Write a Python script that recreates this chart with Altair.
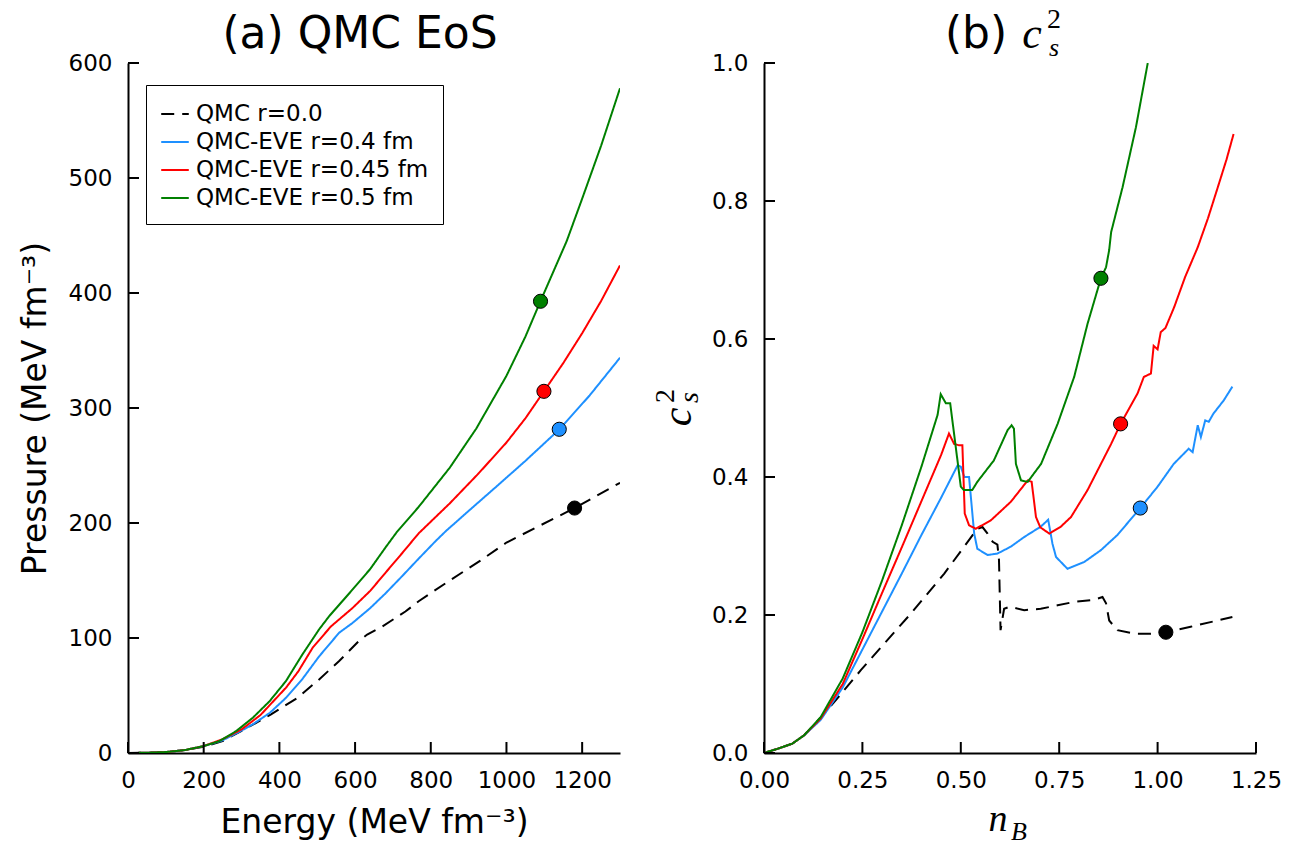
import altair as alt
import pandas as pd

SERIES = ["QMC r=0.0", "QMC-EVE r=0.4 fm", "QMC-EVE r=0.45 fm", "QMC-EVE r=0.5 fm"]
COLORS = ["#000000", "#1E90FF", "#FF0000", "#008000"]
DASHES = [[13, 8], [1, 0], [1, 0], [1, 0]]

# ---- panel (a): pressure vs energy density ----
E_qmc = [0, 50, 100, 150, 200, 250, 308, 378, 448, 505, 558, 610, 632, 672, 733, 768, 850, 930, 1000, 1090, 1180, 1240, 1300]
P_qmc = [0, 0.2, 0.8, 2.5, 5.5, 10.4, 20.6, 33.6, 48, 64, 80, 97.4, 103, 110, 123, 132, 150, 167, 183, 198, 213, 224, 235]
E_04 = [0, 50, 100, 150, 200, 250, 300, 330, 375, 417.5, 460, 505, 558, 593, 640, 681, 725, 768, 812, 840, 900, 970, 1050, 1140, 1220, 1300]
P_04 = [0, 0.2, 0.8, 2.5, 6, 11, 19.5, 25, 35, 48, 64, 84, 104.6, 113, 126, 139, 154, 169, 184, 193, 210.5, 230.7, 254, 281.5, 311, 343.7]
E_045 = [0, 50, 100, 150, 200, 250, 300, 350, 417.5, 450, 488, 536, 593, 640, 681, 725, 768, 850, 926, 1000, 1050, 1099, 1150, 1200, 1250, 1300]
P_045 = [0, 0.2, 0.8, 2.5, 6, 12, 20.5, 33, 56.8, 71, 91.6, 110, 126, 141, 157, 174, 191, 217, 243, 270, 291, 314.5, 339, 365, 393, 424]
E_05 = [0, 50, 100, 150, 200, 242, 286, 330, 374, 417.5, 461, 505, 531.6, 593, 640, 681, 710, 768, 850, 920, 1000, 1050, 1090, 1159, 1200, 1250, 1300]
P_05 = [0, 0.2, 0.8, 2.5, 6, 10.4, 19.1, 30.7, 45, 62.6, 85.8, 107.5, 119, 142, 160, 179, 192, 214, 248, 282, 328, 362, 393, 445, 482, 528, 578]
DOT_E = [1180, 1139.5, 1099, 1090]
DOT_P = [213, 281.5, 314.5, 392.8]

# ---- panel (b): speed of sound squared vs baryon density ----
n_qmc = [0, 0.034, 0.072, 0.102, 0.161, 0.246, 0.373, 0.458, 0.542, 0.555, 0.568, 0.581, 0.593, 0.597, 0.601, 0.61, 0.625, 0.661, 0.703, 0.746, 0.788, 0.839, 0.860, 0.869, 0.877, 0.898, 0.940, 0.983, 1.021, 1.084, 1.152, 1.19]
c_qmc = [0, 0.006, 0.0136, 0.0257, 0.062, 0.12, 0.202, 0.26, 0.325, 0.3275, 0.318, 0.306, 0.302, 0.28, 0.178, 0.209, 0.212, 0.207, 0.209, 0.214, 0.219, 0.222, 0.226, 0.217, 0.192, 0.178, 0.173, 0.173, 0.175, 0.183, 0.192, 0.197]
n_04 = [0, 0.034, 0.072, 0.102, 0.144, 0.2, 0.25, 0.3, 0.35, 0.4, 0.45, 0.492, 0.5, 0.509, 0.521, 0.534, 0.542, 0.568, 0.593, 0.627, 0.661, 0.703, 0.722, 0.733, 0.742, 0.771, 0.814, 0.856, 0.898, 0.956, 1.0, 1.041, 1.079, 1.089, 1.102, 1.110, 1.121, 1.13, 1.142, 1.168, 1.19]
c_04 = [0, 0.006, 0.0136, 0.0257, 0.048, 0.095, 0.15, 0.205, 0.26, 0.316, 0.37, 0.417, 0.415, 0.40, 0.40, 0.318, 0.296, 0.287, 0.289, 0.299, 0.313, 0.328, 0.338, 0.303, 0.284, 0.267, 0.277, 0.294, 0.316, 0.355, 0.386, 0.419, 0.441, 0.436, 0.475, 0.458, 0.482, 0.480, 0.492, 0.511, 0.531]
n_045 = [0, 0.034, 0.072, 0.102, 0.144, 0.2, 0.25, 0.3, 0.35, 0.4, 0.45, 0.470, 0.483, 0.495, 0.504, 0.51, 0.521, 0.538, 0.576, 0.627, 0.670, 0.680, 0.691, 0.702, 0.725, 0.754, 0.780, 0.822, 0.856, 0.882, 0.906, 0.949, 0.965, 0.983, 0.990, 1.0, 1.008, 1.020, 1.042, 1.07, 1.102, 1.128, 1.153, 1.175, 1.193]
c_045 = [0, 0.006, 0.0136, 0.0257, 0.05, 0.10, 0.165, 0.232, 0.298, 0.365, 0.432, 0.463, 0.448, 0.446, 0.446, 0.347, 0.330, 0.325, 0.337, 0.364, 0.395, 0.393, 0.342, 0.327, 0.318, 0.328, 0.342, 0.381, 0.419, 0.448, 0.477, 0.521, 0.545, 0.55, 0.59, 0.585, 0.610, 0.616, 0.646, 0.69, 0.733, 0.775, 0.820, 0.86, 0.897]
n_05 = [0, 0.034, 0.072, 0.102, 0.144, 0.2, 0.25, 0.3, 0.35, 0.4, 0.441, 0.449, 0.462, 0.473, 0.5, 0.508, 0.529, 0.542, 0.584, 0.619, 0.629, 0.635, 0.640, 0.653, 0.670, 0.704, 0.746, 0.788, 0.822, 0.856, 0.869, 0.877, 0.882, 0.911, 0.945, 0.975]
c_05 = [0, 0.006, 0.0136, 0.0257, 0.052, 0.108, 0.175, 0.25, 0.33, 0.415, 0.49, 0.52, 0.507, 0.507, 0.386, 0.381, 0.381, 0.393, 0.424, 0.468, 0.475, 0.47, 0.419, 0.395, 0.393, 0.419, 0.477, 0.545, 0.622, 0.688, 0.704, 0.729, 0.755, 0.820, 0.907, 1.0]
DOT_n = [1.021, 0.956, 0.906, 0.856]
DOT_c = [0.175, 0.355, 0.477, 0.688]

# tick values
XT_A = [0, 200, 400, 600, 800, 1000, 1200]
YT_A = [0, 100, 200, 300, 400, 500, 600]
XT_B = [0, 0.25, 0.5, 0.75, 1.0, 1.25]
YT_B = [0, 0.2, 0.4, 0.6, 0.8, 1.0]

W, H = 492, 690
TICK = 11
SANS = "DejaVu Sans"
SERIF = "Liberation Serif"


def long_df(xs_list, ys_list, xname, yname):
    rows = []
    for s, xs, ys in zip(SERIES, xs_list, ys_list):
        for i, (x, y) in enumerate(zip(xs, ys)):
            rows.append({"series": s, xname: x, yname: y, "i": i})
    return pd.DataFrame(rows)


df_a = long_df([E_qmc, E_04, E_045, E_05], [P_qmc, P_04, P_045, P_05], "E", "P")
df_b = long_df([n_qmc, n_04, n_045, n_05], [c_qmc, c_04, c_045, c_05], "n", "c")
dots_a = pd.DataFrame({"series": SERIES, "E": DOT_E, "P": DOT_P})
dots_b = pd.DataFrame({"series": SERIES, "n": DOT_n, "c": DOT_c})

legend = alt.Legend(
    title=None, orient="none", legendX=18, legendY=22, symbolType="stroke",
    symbolStrokeWidth=2, symbolSize=760, labelFont=SANS, labelFontSize=23,
    labelColor="black", labelOffset=6, labelLimit=400, padding=14, rowPadding=1,
    strokeColor="black", fillColor="white", cornerRadius=0,
)
color_scale = alt.Scale(domain=SERIES, range=COLORS)
dash_scale = alt.Scale(domain=SERIES, range=DASHES)

axis_common = dict(grid=False, ticks=False, domainColor="black", domainWidth=2,
                   labelFont=SANS, labelFontSize=23, labelColor="black",
                   labelPadding=16, labelFlush=False, labelOverlap=False,
                   titleFont=SANS, titleFontSize=33,
                   titleFontWeight="normal", titleColor="black")

# ---------- panel (a) ----------
xa = alt.X("E:Q", scale=alt.Scale(domain=[0, 1300], nice=False),
           axis=alt.Axis(values=XT_A, format="d", title="Energy (MeV fm⁻³)",
                         titlePadding=14, **axis_common))
ya = alt.Y("P:Q", scale=alt.Scale(domain=[0, 600], nice=False),
           axis=alt.Axis(values=YT_A, format="d", title="Pressure (MeV fm⁻³)",
                         titlePadding=16, **axis_common))

lines_a = alt.Chart(df_a).mark_line(strokeWidth=2, clip=True).encode(
    x=xa, y=ya,
    color=alt.Color("series:N", scale=color_scale, legend=legend),
    strokeDash=alt.StrokeDash("series:N", scale=dash_scale, legend=legend),
    order="i:Q", detail="series:N",
)
pts_a = alt.Chart(dots_a).mark_circle(size=200, stroke="black", strokeWidth=1, opacity=1).encode(
    x=xa, y=ya, fill=alt.Fill("series:N", scale=color_scale, legend=None)
)
xt_a = alt.Chart(pd.DataFrame({"E": XT_A})).mark_rule(color="black", strokeWidth=2).encode(
    x=xa, y=alt.value(H), y2=alt.value(H - TICK))
yt_a = alt.Chart(pd.DataFrame({"P": YT_A})).mark_rule(color="black", strokeWidth=2).encode(
    y=ya, x=alt.value(0), x2=alt.value(TICK))
title_a = alt.Chart(pd.DataFrame({"t": ["(a) QMC EoS"]})).mark_text(
    font=SANS, fontSize=44, align="center", baseline="alphabetic", color="black"
).encode(text="t:N", x=alt.value(232), y=alt.value(-15))

panel_a = alt.layer(lines_a, pts_a, xt_a, yt_a, title_a).properties(width=W, height=H)

# ---------- panel (b) ----------
xb = alt.X("n:Q", scale=alt.Scale(domain=[0, 1.25], nice=False),
           axis=alt.Axis(values=XT_B, format=".2f", title=None, **axis_common))
yb = alt.Y("c:Q", scale=alt.Scale(domain=[0, 1], nice=False),
           axis=alt.Axis(values=YT_B, format=".1f", title=None, **axis_common))

lines_b = alt.Chart(df_b).mark_line(strokeWidth=2, clip=True).encode(
    x=xb, y=yb,
    color=alt.Color("series:N", scale=color_scale, legend=None),
    strokeDash=alt.StrokeDash("series:N", scale=dash_scale, legend=None),
    order="i:Q", detail="series:N",
)
pts_b = alt.Chart(dots_b).mark_circle(size=200, stroke="black", strokeWidth=1, opacity=1).encode(
    x=xb, y=yb, fill=alt.Fill("series:N", scale=color_scale, legend=None)
)
xt_b = alt.Chart(pd.DataFrame({"n": XT_B})).mark_rule(color="black", strokeWidth=2).encode(
    x=xb, y=alt.value(H), y2=alt.value(H - TICK))
yt_b = alt.Chart(pd.DataFrame({"c": YT_B})).mark_rule(color="black", strokeWidth=2).encode(
    y=yb, x=alt.value(0), x2=alt.value(TICK))


def txt(s, x, y, size, font=SANS, italic=False, angle=0, align="center"):
    kw = dict(font=font, fontSize=size, align=align, baseline="alphabetic", color="black")
    if italic:
        kw["fontStyle"] = "italic"
    if angle:
        kw["angle"] = angle
    return alt.Chart(pd.DataFrame({"t": [s]})).mark_text(**kw).encode(
        text="t:N", x=alt.value(x), y=alt.value(y))


title_b = [
    txt("(b)", 212, -15, 44),
    txt("c", 268, -15, 44, SERIF, True),
    txt("s", 285, -7, 26, SERIF, True, align="left"),
    txt("2", 283, -35, 28, SERIF, align="left"),
]
ytitle_b = [
    txt("c", -73, 354, 42, SERIF, True, angle=270),
    txt("s", -66, 340, 28, SERIF, True, angle=270, align="left"),
    txt("2", -90, 340, 28, SERIF, angle=270, align="left"),
]
xtitle_b = [
    txt("n", 234, 768, 38, SERIF, True),
    txt("B", 247, 777, 26, SERIF, True, align="left"),
]

panel_b = alt.layer(lines_b, pts_b, xt_b, yt_b, *title_b, *ytitle_b, *xtitle_b).properties(width=W, height=H)

chart = alt.hconcat(panel_a, panel_b, spacing=32).resolve_scale(
    color="independent", strokeDash="independent", fill="independent"
).configure_view(stroke=None).properties(
    padding={"left": 19, "top": 6, "right": 10, "bottom": 10}
)

chart.save("out.html", embed_options={"renderer": "svg", "actions": False})
